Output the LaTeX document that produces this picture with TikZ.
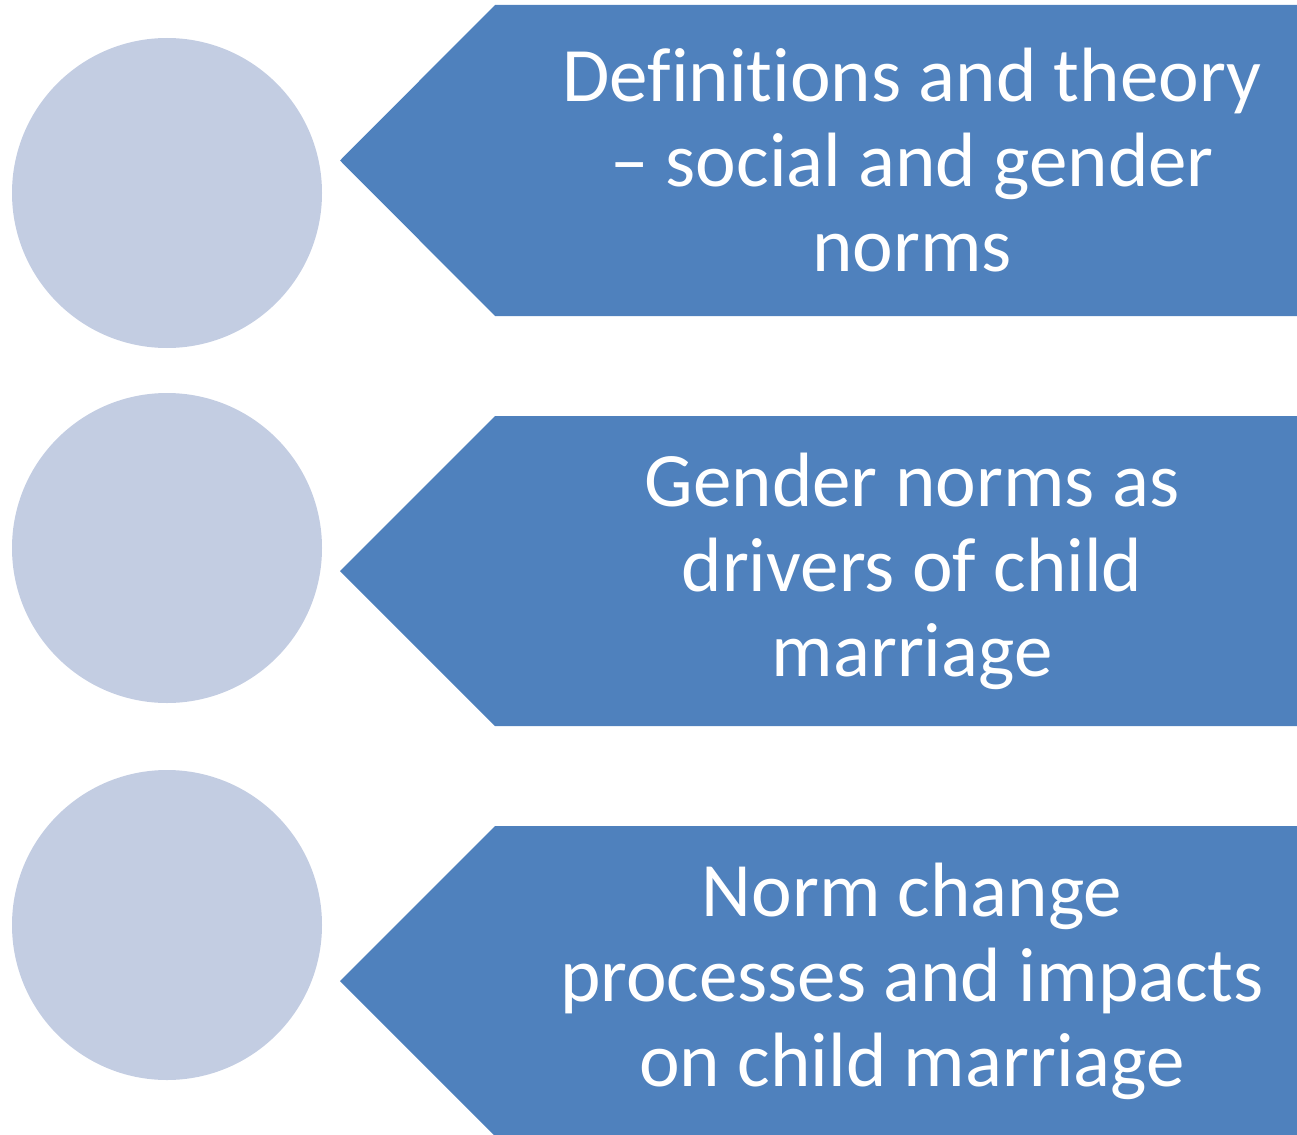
\documentclass[tikz,border=0pt]{standalone}
\usepackage{fontspec}
\setmainfont[Ligatures={NoCommon}]{Carlito}
\definecolor{arrowblue}{HTML}{4F81BD}
\definecolor{circblue}{HTML}{C3CDE2}
\begin{document}
\begin{tikzpicture}[x=1pt,y=-1pt,
  circ/.style={circle,fill=circblue,minimum size=310pt,inner sep=0pt},
  tag/.style={fill=arrowblue},
  lbl/.style={text=white,align=center,font=\fontsize{77}{85}\selectfont}]
\useasboundingbox (0,0) rectangle (1297,1134);
\node[circ] (c1) at (167,193) {};
\node[circ] (c2) at (167,548) {};
\node[circ] (c3) at (167,925) {};
\fill[tag] (340,160.5) -- (495,5) -- (1297,5) -- (1297,316) -- (495,316) -- cycle;
\fill[tag] (340,571) -- (495,416) -- (1297,416) -- (1297,726) -- (495,726) -- cycle;
\fill[tag] (340,981) -- (495,826) -- (1297,826) -- (1297,1136) -- (495,1136) -- cycle;
\node[lbl] (t1) at (912,160) {Definitions and theory\\– social and gender\\norms};
\node[lbl] (t2) at (912,571) {Gender norms as\\drivers of child\\marriage};
\node[lbl] (t3) at (912,981) {Norm change\\processes and impacts\\on child marriage};
\end{tikzpicture}
\end{document}
